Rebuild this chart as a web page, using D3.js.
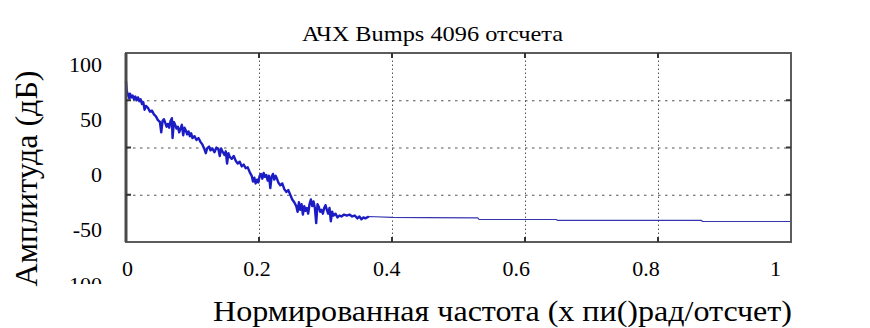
<!DOCTYPE html>
<head>
<meta charset="utf-8">
</head>
<style>
  body { margin: 0; background: #fff; }
  .grid line { stroke: #555; stroke-width: 1; }
  .grid path { display: none; }
  .lbl path, .lbl line { display: none; }
</style>
<body>
<script src="https://d3js.org/d3.v7.min.js"></script>
<script>

// frequency (x pi rad/sample) and magnitude (dB)
var freq = [0.000,0.001,0.003,0.005,0.006,0.008,0.010,0.012,0.014,0.016,0.018,0.020,0.022,0.024,0.026,0.028,0.030,0.033,0.036,0.039,
  0.042,0.045,0.048,0.051,0.053,0.055,0.057,0.059,0.061,0.063,0.065,0.067,0.069,0.070,0.072,0.074,0.076,0.078,0.080,0.082,
  0.084,0.086,0.088,0.090,0.092,0.094,0.096,0.098,0.100,0.103,0.106,0.109,0.112,0.115,0.118,0.120,0.122,0.125,0.127,0.130,
  0.133,0.136,0.139,0.141,0.143,0.145,0.148,0.150,0.152,0.154,0.156,0.159,0.162,0.165,0.168,0.171,0.174,0.177,0.180,0.183,
  0.186,0.189,0.191,0.193,0.195,0.197,0.199,0.201,0.203,0.205,0.207,0.209,0.211,0.213,0.215,0.217,0.219,0.221,0.223,0.225,
  0.227,0.229,0.232,0.235,0.238,0.241,0.244,0.247,0.250,0.253,0.256,0.258,0.260,0.262,0.264,0.266,0.268,0.270,0.272,0.274,
  0.276,0.278,0.280,0.282,0.284,0.286,0.288,0.290,0.292,0.294,0.296,0.298,0.300,0.302,0.304,0.306,0.308,0.310,0.312,0.315,
  0.318,0.321,0.324,0.328,0.332,0.336,0.340,0.344,0.348,0.351,0.354,0.357,0.360,0.365,0.400,0.450,0.529,0.531,0.647,0.649,
  0.865,0.867,1.000]

var ampDb = [70,60,56,52,57,53,55,51,54,50,53,49,51,46,48,40,44,42,38,39,
  35,33,29,27,16,28,30,26,22,25,21,28,31,10,27,24,20,22,16,20,
  24,13,21,18,14,17,12,15,10,12,8,10,6,3,-2,-6,-1,1,-3,-1,
  -5,0,-2,-9,-1,-4,-8,-4,-17,-6,-10,-12,-9,-14,-17,-15,-20,-18,-22,-21,
  -26,-30,-36,-32,-38,-34,-37,-30,-28,-33,-27,-31,-29,-35,-30,-43,-31,-28,-34,-30,
  -33,-37,-40,-38,-44,-47,-45,-50,-55,-58,-62,-68,-58,-66,-60,-71,-62,-67,-64,-70,
  -60,-55,-62,-57,-64,-80,-60,-63,-68,-66,-70,-64,-61,-66,-70,-64,-78,-68,-72,-70,
  -74,-72,-73,-71,-72,-71,-73,-72,-75,-73,-76,-74,-75,-73,-74,-74.3,-74.5,-76.2,-76.2,-77.2,
  -77.2,-78.3,-78.3]

var xGrid = [0.2, 0.4, 0.6, 0.8]
var yGrid = [-50, 0, 50]
var xTickLabels = [0, 0.2, 0.4, 0.6, 0.8, 1]
var yTickLabels = [100, 50, 0, -50, -100]

var W = 870, H = 328
var serif = "'Liberation Serif', 'Times New Roman', serif"

var svg = d3.select("body").append("svg")
    .attr("width", W)
    .attr("height", H)

svg.append("rect").attr("width", W).attr("height", H).attr("fill", "#fff")

// plot scales
var x = d3.scaleLinear().domain([0, 1]).range([126, 791])
var y = d3.scaleLinear().domain([-100, 100]).range([242, 53])

// tick labels are set a little apart from the grid in the original
var xl = d3.scaleLinear().domain([0, 1]).range([127, 775])
var yl = d3.scaleLinear().domain([-100, 100]).range([284, 64])

var pw = x(1) - x(0), ph = y(-100) - y(100)

// grid
svg.append("g")
    .attr("class", "grid")
    .attr("transform", "translate(0," + y(-100) + ")")
    .call(d3.axisBottom(x).tickValues(xGrid).tickSize(-ph).tickFormat(""))
  .selectAll("line")
    .attr("stroke-dasharray", "1.5,2.5")

svg.append("g")
    .attr("class", "grid")
    .attr("transform", "translate(" + x(0) + ",0)")
    .call(d3.axisLeft(y).tickValues(yGrid).tickSize(-pw).tickFormat(""))
  .selectAll("line")
    .attr("stroke-dasharray", "2.5,4.5")

// response line: noisy low band drawn heavier, flat tail thin
var pts = freq.map(function(f, i) { return [f, ampDb[i]] })
var line = d3.line().x(function(d) { return x(d[0]) }).y(function(d) { return y(d[1]) })

svg.append("path")
    .datum(pts.filter(function(d) { return d[0] >= 0.36 }))
    .attr("fill", "none")
    .attr("stroke", "#3535b0")
    .attr("stroke-width", 1.2)
    .attr("d", line)

svg.append("path")
    .datum(pts.filter(function(d) { return d[0] <= 0.365 }))
    .attr("fill", "none")
    .attr("stroke", "#1c1cc4")
    .attr("stroke-width", 2.4)
    .attr("stroke-linejoin", "round")
    .attr("d", line)

// frame
svg.append("rect")
    .attr("x", x(0)).attr("y", y(100))
    .attr("width", pw).attr("height", ph)
    .attr("fill", "none")
    .attr("stroke", "#5c5c5c")
    .attr("stroke-width", 2)

svg.append("line")
    .attr("x1", x(0)).attr("x2", x(0))
    .attr("y1", y(100)).attr("y2", y(-100))
    .attr("stroke", "#4a4a4a")
    .attr("stroke-width", 3)

// inner ticks
var tk = 5
svg.append("g").selectAll("line").data(xGrid).enter().append("line")
    .attr("x1", function(d) { return x(d) }).attr("x2", function(d) { return x(d) })
    .attr("y1", y(-100)).attr("y2", y(-100) - tk)
    .attr("stroke", "#333").attr("stroke-width", 2)
svg.append("g").selectAll("line").data(xGrid).enter().append("line")
    .attr("x1", function(d) { return x(d) }).attr("x2", function(d) { return x(d) })
    .attr("y1", y(100)).attr("y2", y(100) + tk)
    .attr("stroke", "#333").attr("stroke-width", 2)
svg.append("g").selectAll("line").data(yGrid).enter().append("line")
    .attr("x1", x(1)).attr("x2", x(1) - tk)
    .attr("y1", function(d) { return y(d) }).attr("y2", function(d) { return y(d) })
    .attr("stroke", "#333").attr("stroke-width", 2)
svg.append("g").selectAll("line").data(yGrid).enter().append("line")
    .attr("x1", x(0)).attr("x2", x(0) + tk)
    .attr("y1", function(d) { return y(d) }).attr("y2", function(d) { return y(d) })
    .attr("stroke", "#333").attr("stroke-width", 2)

// tick labels
var xAx = svg.append("g")
    .attr("class", "lbl")
    .attr("transform", "translate(0,260)")
    .call(d3.axisBottom(xl).tickValues(xTickLabels).tickSize(0).tickPadding(0)
      .tickFormat(function(d) { return String(d) }))
xAx.selectAll("text")
    .style("font-family", serif)
    .style("font-size", "22px")
    .attr("fill", "#000")

svg.append("clipPath").attr("id", "ylclip")
  .append("rect").attr("x", 0).attr("y", 0).attr("width", 120).attr("height", 284)

var yAx = svg.append("g")
    .attr("class", "lbl")
    .attr("clip-path", "url(#ylclip)")
  .append("g")
    .attr("transform", "translate(102,0)")
    .call(d3.axisLeft(yl).tickValues(yTickLabels).tickSize(0).tickPadding(0)
      .tickFormat(function(d) { return String(d) }))
yAx.selectAll("text")
    .style("font-family", serif)
    .style("font-size", "22px")
    .attr("fill", "#000")

// titles
svg.append("text")
    .attr("x", 432.5).attr("y", 41)
    .attr("text-anchor", "middle")
    .style("font-family", serif)
    .style("font-size", "21px")
    .attr("textLength", 261)
    .attr("lengthAdjust", "spacingAndGlyphs")
    .text("АЧХ Bumps 4096 отсчета")

svg.append("text")
    .attr("x", 502.5).attr("y", 321)
    .attr("text-anchor", "middle")
    .style("font-family", serif)
    .style("font-size", "30px")
    .attr("textLength", 579)
    .attr("lengthAdjust", "spacingAndGlyphs")
    .text("Нормированная частота (х пи()рад/отсчет)")

svg.append("text")
    .attr("transform", "translate(37,178.5) rotate(-90)")
    .attr("text-anchor", "middle")
    .style("font-family", serif)
    .style("font-size", "31px")
    .attr("textLength", 216)
    .attr("lengthAdjust", "spacingAndGlyphs")
    .text("Амплитуда (дБ)")

</script>
</body>
